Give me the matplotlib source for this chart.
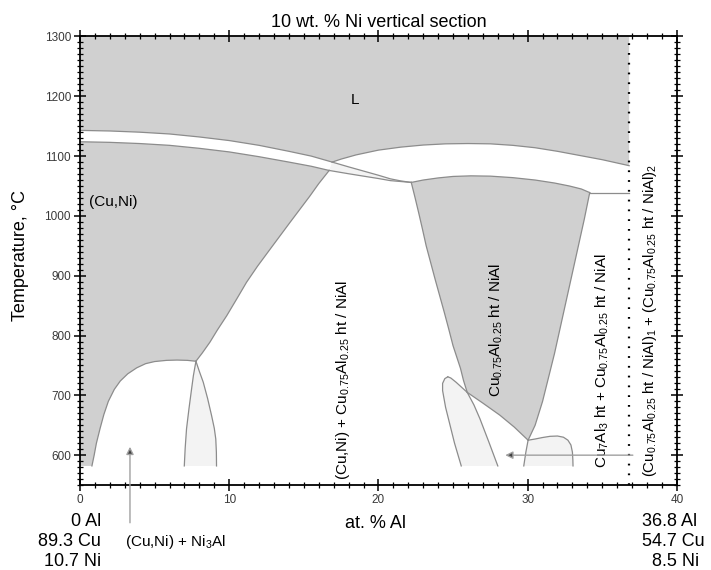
import matplotlib.pyplot as plt
from matplotlib.ticker import MultipleLocator

plt.rcParams['font.family'] = ['Liberation Sans', 'DejaVu Sans']
plt.rcParams['mathtext.fontset'] = 'custom'
plt.rcParams['mathtext.rm'] = 'Liberation Sans'
plt.rcParams['mathtext.it'] = 'Liberation Sans:italic'

# phase boundaries: at.% Al, temperature in C
liq_left_x = [0, 2, 4, 6, 8, 10, 12, 14, 15.5, 16.9]
liq_left_t = [1143, 1142, 1140, 1137, 1132, 1126, 1118, 1108, 1100, 1090]
sol_left_x = [0, 2, 4, 6, 8, 10, 12, 14, 15.5, 16.7]
sol_left_t = [1124, 1123, 1121, 1118, 1113, 1107, 1099, 1090, 1083, 1076]
liq_right_x = [16.9, 17.5, 18.5, 20, 21.5, 23, 24.5, 26, 27.5, 29, 30.5, 32, 33.5, 35, 36.8]
liq_right_t = [1090, 1095, 1102, 1110, 1115, 1118.5, 1120.5, 1121, 1120.5, 1118, 1114, 1108,
               1101, 1094, 1084]

sliver_top_x = [16.9, 18.0, 19.0, 20.0, 20.8, 21.5, 22.2]
sliver_top_t = [1090, 1082, 1075, 1068, 1062, 1058.5, 1056]
sliver_bot_x = [16.7, 18.0, 19.0, 20.0, 20.8, 21.5, 22.2]
sliver_bot_t = [1076, 1070.5, 1066.5, 1062.5, 1059, 1057.5, 1056]

solvus_x = [16.7, 16.0, 15.4, 14.07, 12.73, 11.9, 11.16, 10.5, 9.83, 9.2, 8.71, 8.2, 7.77]
solvus_t = [1076, 1054, 1033, 989, 944, 916, 889, 861, 833, 809, 789, 771, 757]
dome_x = [7.77, 7.2, 6.5, 5.8, 5.0, 4.4, 3.8, 3.2, 2.7, 2.3, 1.9, 1.6, 1.35, 1.1, 0.95, 0.8]
dome_t = [757, 758.5, 759, 758.5, 756.5, 753, 746, 736, 724, 710, 690, 668, 645, 620, 600, 582]

lens1_left_x = [7.77, 7.6, 7.48, 7.3, 7.14, 7.05, 6.99]
lens1_left_t = [757, 733, 711, 677, 644, 612, 582]
lens1_right_x = [7.77, 8.0, 8.26, 8.55, 8.82, 9.0, 9.1, 9.14, 9.15]
lens1_right_t = [757, 740, 722, 695, 666, 645, 627, 605, 582]

lens2_left_x = [25.55, 25.1, 24.8, 24.5, 24.3, 24.3, 24.45, 24.65]
lens2_left_t = [582, 620, 650, 680, 708, 720, 728, 731]
lens2_right_x = [24.65, 24.85, 25.2, 25.95, 26.4, 26.8, 27.4, 28.0]
lens2_right_t = [731, 729, 722, 705, 684, 661, 622, 582]

beta_top_x = [22.2, 23, 24, 25, 26.2, 27.5, 29, 30.5, 31.8, 32.8, 33.6, 34.16]
beta_top_t = [1056, 1060, 1063.5, 1066, 1067, 1066.5, 1064, 1060, 1055, 1050, 1045, 1039]
beta_right_x = [34.16, 33.8, 33.4, 33.0, 32.6, 32.2, 31.8, 31.4, 31.0, 30.5, 30.03]
beta_right_t = [1039, 995, 950, 905, 860, 815, 770, 730, 690, 650, 625]
beta_bot_x = [30.03, 29.1, 28.13, 27.0, 25.95]
beta_bot_t = [625, 647, 667, 687, 705]
beta_left_x = [25.95, 25.7, 25.5, 25.0, 24.7, 24.4, 24.1, 23.8, 23.5, 23.2, 22.95, 22.7,
               22.45, 22.2]
beta_left_t = [705, 725, 745, 783, 812, 840, 867, 894, 922, 950, 978, 1005, 1031, 1056]

alpha_x = [29.74, 29.88, 30.03, 30.5, 31.0, 31.5, 32.0, 32.4, 32.7, 32.9, 33.0, 33.03, 33.04]
alpha_t = [582, 605, 625, 627, 629.5, 631.5, 632, 630, 625, 617, 605, 592, 582]

flat_x = [34.16, 36.8]
flat_t = [1039, 1039]

x_end = 36.8
t_low = 582
t_top = 1300

gray = '#d0d0d0'
light = '#f3f3f3'
edge = '#8c8c8c'

fig = plt.figure(figsize=(7.11, 5.70), dpi=100)
ax = fig.add_axes([0.1125, 0.149, 0.8395, 0.787])

# liquid
ax.fill([0, x_end] + liq_right_x[::-1] + liq_left_x[::-1],
        [t_top, t_top] + liq_right_t[::-1] + liq_left_t[::-1], color=gray, lw=0)
# (Cu,Ni)
ax.fill(sol_left_x + solvus_x + dome_x + [0],
        sol_left_t + solvus_t + dome_t + [t_low], color=gray, lw=0)
# Cu0.75Al0.25 ht / NiAl
ax.fill(beta_top_x + beta_right_x + beta_bot_x + beta_left_x,
        beta_top_t + beta_right_t + beta_bot_t + beta_left_t, color=gray, lw=0)
# three-phase fields
ax.fill(sliver_top_x + sliver_bot_x[::-1], sliver_top_t + sliver_bot_t[::-1], color=light, lw=0)
ax.fill(lens1_left_x + lens1_right_x[::-1], lens1_left_t + lens1_right_t[::-1], color=light, lw=0)
ax.fill(lens2_left_x + lens2_right_x, lens2_left_t + lens2_right_t, color=light, lw=0)
ax.fill(alpha_x, alpha_t, color=light, lw=0)

curves = [(liq_left_x, liq_left_t), (sol_left_x, sol_left_t), (liq_right_x, liq_right_t),
          (sliver_top_x, sliver_top_t), (sliver_bot_x, sliver_bot_t),
          (solvus_x, solvus_t), (dome_x, dome_t),
          (lens1_left_x, lens1_left_t), (lens1_right_x, lens1_right_t),
          (lens2_left_x, lens2_left_t), (lens2_right_x, lens2_right_t),
          (beta_top_x, beta_top_t), (beta_right_x, beta_right_t),
          (beta_bot_x, beta_bot_t), (beta_left_x, beta_left_t),
          (alpha_x, alpha_t), (flat_x, flat_t)]
for cx, ct in curves:
    ax.plot(cx, ct, color=edge, lw=0.9, solid_joinstyle='round')

ax.axvline(x_end, color='black', lw=1.6, ls=(0, (0.8, 3.6)))

# labels inside the diagram
ax.text(18.4, 1193, 'L', fontsize=11, ha='center', va='center')
ax.text(0.63, 1023, '(Cu,Ni)', fontsize=11, ha='left', va='center')
ax.text(17.6, 725, '(Cu,Ni) + Cu$_{0.75}$Al$_{0.25}$ ht / NiAl', fontsize=11,
        rotation=90, ha='center', va='center')
ax.text(27.9, 809, 'Cu$_{0.75}$Al$_{0.25}$ ht / NiAl', fontsize=11,
        rotation=90, ha='center', va='center')
ax.text(35.0, 758, 'Cu$_7$Al$_3$ ht + Cu$_{0.75}$Al$_{0.25}$ ht / NiAl', fontsize=11,
        rotation=90, ha='center', va='center')
ax.text(38.2, 826, '(Cu$_{0.75}$Al$_{0.25}$ ht / NiAl)$_1$ + (Cu$_{0.75}$Al$_{0.25}$ ht / NiAl)$_2$',
        fontsize=10.8, rotation=90, ha='center', va='center')

arrow = dict(arrowstyle='-|>', ec='#a0a0a0', fc='#404040', lw=1, mutation_scale=11,
             shrinkA=0, shrinkB=0)
ax.annotate('', xy=(3.35, 614), xytext=(3.35, 487), arrowprops=arrow, annotation_clip=False)
ax.annotate('', xy=(28.5, 600), xytext=(37.05, 600), arrowprops=arrow, annotation_clip=False)
ax.text(3.0, 455, '(Cu,Ni) + Ni$_3$Al', fontsize=11, ha='left', va='center', clip_on=False)

ax.set_xlim(0, 40)
ax.set_ylim(550, 1300)
ax.xaxis.set_major_locator(MultipleLocator(10))
ax.xaxis.set_minor_locator(MultipleLocator(1))
ax.yaxis.set_major_locator(MultipleLocator(100))
ax.yaxis.set_minor_locator(MultipleLocator(10))
ax.tick_params(which='both', top=True, right=True, direction='inout', color='black')
ax.tick_params(which='major', length=9, width=1.1, labelsize=8.5, labelcolor='#3a3a3a', pad=2)
ax.tick_params(which='minor', length=4.5, width=0.9)
for sp in ax.spines.values():
    sp.set_linewidth(1.3)

fig.text(378.5 / 711, 1 - 22.5 / 570, '10 wt. % Ni vertical section', fontsize=13,
         ha='center', va='center')
fig.text(21 / 711, 1 - 255 / 570, 'Temperature, \u00b0C', fontsize=13, rotation=90,
         ha='center', va='center')
fig.text(375.5 / 711, 1 - 523 / 570, 'at. % Al', fontsize=13, ha='center', va='center')

for label, yp in zip(['0 Al', '89.3 Cu', '10.7 Ni'], [522, 542, 562]):
    fig.text(101 / 711, 1 - yp / 570, label, fontsize=13, ha='right', va='center')
for label, xp, yp in zip(['36.8 Al', '54.7 Cu', '8.5 Ni'], [642, 642, 652], [522, 542, 562]):
    fig.text(xp / 711, 1 - yp / 570, label, fontsize=13, ha='left', va='center')

fig.savefig('out.png', dpi=100)
